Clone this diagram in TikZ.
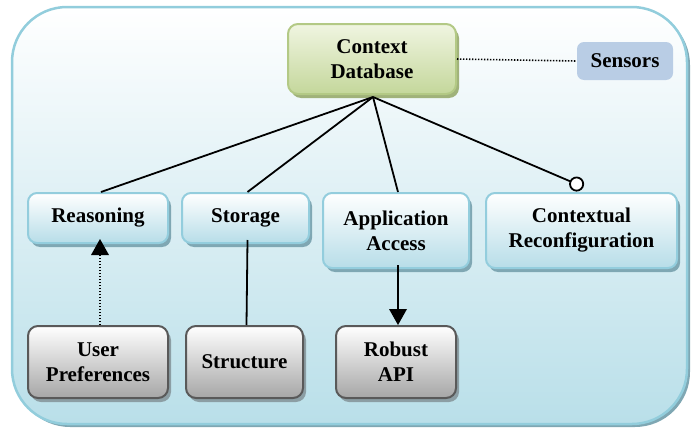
\documentclass[tikz,border=0pt]{standalone}
\usepackage{fontspec}
\setmainfont{Liberation Serif}
\usetikzlibrary{shadows,arrows.meta}
\definecolor{outerbd}{HTML}{92CDDC}
\definecolor{outerbot}{HTML}{B9DFE9}
\definecolor{bluebd}{HTML}{93CDDD}
\definecolor{bluebot}{HTML}{B7DDE8}
\definecolor{blushadow}{HTML}{7FA7B3}
\definecolor{graybd}{HTML}{595959}
\definecolor{graybot}{HTML}{A6A6A6}
\definecolor{grayshadow}{HTML}{8C9EA4}
\definecolor{greenbd}{HTML}{B3C985}
\definecolor{greentop}{HTML}{F0F5E1}
\definecolor{greenbot}{HTML}{C4D79B}
\definecolor{greenshadow}{HTML}{A0B27A}
\definecolor{sensorfill}{HTML}{B9CDE5}
\begin{document}
\begin{tikzpicture}[x=1pt,y=-1pt,
  lbl/.style={font=\bfseries\fontsize{21}{25}\selectfont, align=center, inner sep=0pt},
  blubox/.style={lbl, draw=bluebd, line width=2pt, rounded corners=9pt,
    top color=white, bottom color=bluebot,
    drop shadow={shadow xshift=3pt, shadow yshift=-4pt, fill=blushadow, opacity=1}},
  graybox/.style={lbl, draw=graybd, line width=2pt, rounded corners=10pt,
    top color=white, bottom color=graybot,
    drop shadow={shadow xshift=3pt, shadow yshift=-4pt, fill=grayshadow, opacity=1}},
  greenbox/.style={lbl, draw=greenbd, line width=2pt, rounded corners=10pt,
    top color=greentop, bottom color=greenbot,
    drop shadow={shadow xshift=3pt, shadow yshift=-4pt, fill=greenshadow, opacity=1}},
  conn/.style={line width=1.8pt, black},
  dotconn/.style={line width=1.6pt, black, dash pattern=on 1.4pt off 1.6pt},
  tri/.style={-{Triangle[length=16pt, width=18pt, line width=0pt]}}
]
\useasboundingbox (0,0) rectangle (697,431);
% outer container
\path[draw=outerbd, line width=2.5pt, rounded corners=55pt, top color=white, bottom color=outerbot,
  drop shadow={shadow xshift=3pt, shadow yshift=-3pt, fill=blushadow, opacity=1}]
  (12,7) rectangle (687,424);

% nodes
\node[greenbox, minimum width=168pt, minimum height=70pt] (ctx) at (372,59) {Context\\Database};
\node[lbl, fill=sensorfill, rounded corners=7pt, minimum width=96pt, minimum height=38pt] (sens) at (625,61) {Sensors};

\node[blubox, minimum width=140pt, minimum height=50pt] (reas) at (98,218) {Reasoning};
\node[blubox, minimum width=127pt, minimum height=50pt] (stor) at (245.5,218) {Storage};
\node[blubox, minimum width=146pt, minimum height=75pt] (app) at (396,230.5) {Application\\Access};
\node[blubox, minimum width=191pt, minimum height=75pt] (ctxr) at (581.5,230.5) {Contextual\\Reconfiguration};

\node[graybox, minimum width=140pt, minimum height=72pt] (user) at (98,362) {User\\Preferences};
\node[graybox, minimum width=117pt, minimum height=72pt] (struct) at (244.5,362) {Structure};
\node[graybox, minimum width=120pt, minimum height=72pt] (api) at (396,362) {Robust\\API};

% connectors
\coordinate (hub) at (373,97);
\draw[dotconn] (ctx.east) -- (sens.west);
\draw[conn] (hub) -- ([xshift=3pt]reas.north);
\draw[conn] (hub) -- ([xshift=2pt]stor.north);
\draw[conn] (hub) -- ([xshift=2pt]app.north);
\draw[conn, -{Circle[open, fill=white, length=15pt, width=15pt, line width=1.8pt]}] (hub) -- ([xshift=2pt, yshift=5pt]ctxr.north);
\draw[dotconn, tri] ([xshift=2pt]user.north) -- ([xshift=2pt, yshift=5pt]reas.south);
\draw[conn] ([xshift=2pt]struct.north) -- ([xshift=2pt, yshift=4pt]stor.south);
\draw[conn, tri] ([xshift=2pt, yshift=4pt]app.south) -- ([xshift=2pt]api.north);
\end{tikzpicture}
\end{document}
